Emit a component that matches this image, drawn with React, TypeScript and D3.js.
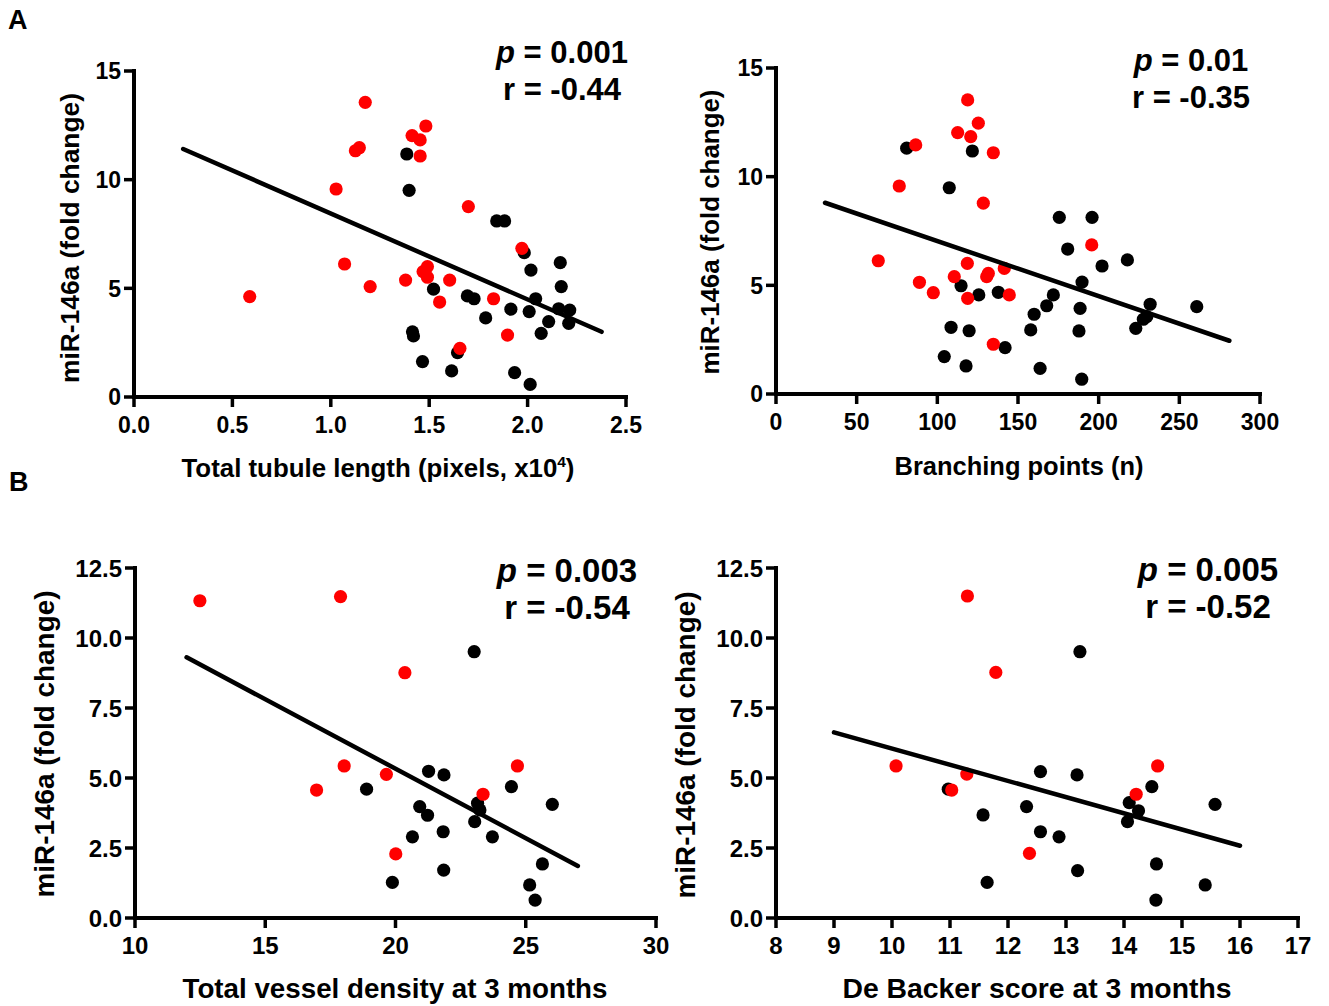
import React from 'react';
import * as d3 from 'd3';

// panel A, left: total tubule length (x10^4 px) vs miR-146a
const tubuleRed = [
  [1.175, 13.56], [1.125, 11.33], [1.145, 11.47], [1.027, 9.57], [1.07, 6.12],
  [1.2, 5.08], [0.588, 4.62], [1.483, 12.47], [1.413, 12.03], [1.454, 11.83],
  [1.454, 11.09], [1.699, 8.76], [1.971, 6.84], [1.491, 6.0], [1.469, 5.77],
  [1.491, 5.51], [1.38, 5.38], [1.604, 5.38], [1.553, 4.37], [1.827, 4.52],
  [1.898, 2.85], [1.656, 2.24],
];
const tubuleBlack = [
  [1.386, 11.18], [1.398, 9.51], [1.843, 8.1], [1.883, 8.1], [1.983, 6.64],
  [2.166, 6.18], [2.017, 5.84], [2.171, 5.08], [1.522, 4.96], [1.694, 4.65],
  [1.728, 4.52], [2.041, 4.52], [1.915, 4.04], [2.008, 3.93], [2.158, 4.06],
  [2.214, 4.0], [2.107, 3.47], [2.209, 3.39], [1.787, 3.64], [2.069, 2.93],
  [1.415, 3.0], [1.42, 2.81], [1.644, 2.04], [1.466, 1.63], [1.614, 1.2],
  [1.934, 1.12], [2.013, 0.58],
];
const tubuleFit = [[0.25, 11.41], [2.376, 3.0]];

// panel A, right: branching points
const branchRed = [
  [118.8, 13.53], [125.4, 12.46], [112.6, 12.03], [120.7, 11.84], [86.6, 11.46],
  [134.7, 11.1], [76.4, 9.57], [128.5, 8.78], [63.4, 6.13], [118.6, 6.01],
  [110.5, 5.4], [131.6, 5.55], [130.6, 5.4], [141.5, 5.78], [88.9, 5.14],
  [97.5, 4.66], [118.8, 4.4], [144.6, 4.56], [134.7, 2.29], [195.7, 6.86],
];
const branchBlack = [
  [81.0, 11.31], [121.7, 11.18], [107.4, 9.49], [114.7, 4.98], [125.7, 4.56],
  [137.8, 4.68], [108.5, 3.07], [119.7, 2.91], [142, 2.13], [104.3, 1.72],
  [117.8, 1.29], [175.6, 8.13], [195.9, 8.13], [180.8, 6.67], [217.8, 6.17],
  [202.1, 5.89], [189.7, 5.15], [171.9, 4.56], [167.8, 4.06], [160, 3.67],
  [188.5, 3.94], [231.9, 4.13], [260.8, 4.02], [229.8, 3.56], [227.7, 3.44],
  [223, 3.02], [157.9, 2.95], [187.8, 2.9], [163.7, 1.18], [189.5, 0.68],
];
const branchFit = [[30.4, 8.8], [281, 2.45]];

// panel B, left: total vessel density at 3 months
const vesselRed = [
  [12.49, 11.33], [17.89, 11.48], [18.03, 5.43], [16.97, 4.57], [19.65, 5.13],
  [20.36, 8.76], [24.68, 5.43], [23.36, 4.42], [20.01, 2.29],
];
const vesselBlack = [
  [23.02, 9.51], [18.89, 4.6], [21.27, 5.24], [21.86, 5.11], [24.45, 4.69],
  [23.15, 4.1], [23.24, 3.86], [23.04, 3.44], [26.02, 4.06], [20.93, 3.98],
  [21.23, 3.67], [21.83, 3.08], [20.65, 2.9], [23.72, 2.9], [21.85, 1.71],
  [19.88, 1.27], [25.64, 1.93], [25.15, 1.18], [25.36, 0.64],
];
const vesselFit = [[11.98, 9.31], [27.0, 1.86]];

// panel B, right: De Backer score at 3 months
const backerRed = [
  [11.3, 11.5], [11.79, 8.77], [10.07, 5.43], [11.29, 5.14], [11.03, 4.57],
  [12.37, 2.31], [14.58, 5.43], [14.21, 4.42],
];
const backerBlack = [
  [13.24, 9.51], [10.97, 4.6], [12.56, 5.23], [13.19, 5.11], [14.48, 4.69],
  [14.09, 4.12], [14.25, 3.83], [14.06, 3.44], [15.57, 4.06], [12.32, 3.98],
  [11.57, 3.68], [12.56, 3.08], [12.88, 2.9], [13.2, 1.69], [11.64, 1.27],
  [14.56, 1.93], [15.4, 1.18], [14.55, 0.64],
];
const backerFit = [[9.0, 6.63], [16.0, 2.58]];

const tubuleTicks = [0, 0.5, 1, 1.5, 2, 2.5];
const branchTicks = [0, 50, 100, 150, 200, 250, 300];
const vesselTicks = [10, 15, 20, 25, 30];
const backerTicks = [8, 9, 10, 11, 12, 13, 14, 15, 16, 17];
const foldTicksA = [0, 5, 10, 15];
const foldTicksB = [0, 2.5, 5, 7.5, 10, 12.5];

const FONT = "'Liberation Sans', Arial, Helvetica, sans-serif";
const RED = '#ff0000';

function Panel(props) {
  const {
    xDomain, yDomain, xRange, yRange, xTicks, yTicks, xFmt, yFmt,
    red, black, fit, p, r, statX, statY, statSize, tickSize,
    xTitle, xTitleX, xTitleY, xTitleLen, yTitleX, yTitleY, yTitleLen, titleSize,
  } = props;

  const x = d3.scaleLinear().domain(xDomain).range(xRange);
  const y = d3.scaleLinear().domain(yDomain).range(yRange);
  const x0 = xRange[0];
  const y0 = yRange[0];
  const line = d3.line().x(d => x(d[0])).y(d => y(d[1]));

  return (
    <g fontFamily={FONT} fontWeight="bold">
      {/* axes */}
      <line x1={x0} x2={x0} y1={y0} y2={yRange[1]} stroke="#000" strokeWidth={4} strokeLinecap="square" />
      <line x1={x0} x2={xRange[1]} y1={y0} y2={y0} stroke="#000" strokeWidth={4} strokeLinecap="square" />
      {yTicks.map(t => (
        <g key={'y' + t}>
          <line x1={x0 - 10} x2={x0} y1={y(t)} y2={y(t)} stroke="#000" strokeWidth={3.5} />
          <text x={x0 - 13} y={y(t)} dy="0.36em" textAnchor="end" fontSize={tickSize}>
            {yFmt(t)}
          </text>
        </g>
      ))}
      {xTicks.map(t => (
        <g key={'x' + t}>
          <line x1={x(t)} x2={x(t)} y1={y0} y2={y0 + 10} stroke="#000" strokeWidth={3.5} />
          <text x={x(t)} y={y0 + 36} textAnchor="middle" fontSize={tickSize}>
            {xFmt(t)}
          </text>
        </g>
      ))}

      {/* points */}
      {black.map((d, i) => (
        <circle key={'b' + i} cx={x(d[0])} cy={y(d[1])} r={6.6} fill="#000" />
      ))}
      {red.map((d, i) => (
        <circle key={'r' + i} cx={x(d[0])} cy={y(d[1])} r={6.6} fill={RED} />
      ))}

      {/* regression */}
      <path d={line(fit)} fill="none" stroke="#000" strokeWidth={4.5} strokeLinecap="round" />

      {/* stats */}
      <text x={statX} y={statY} textAnchor="middle" fontSize={statSize}>
        <tspan fontStyle="italic">p</tspan> = {p}
      </text>
      <text x={statX} y={statY + 37} textAnchor="middle" fontSize={statSize}>
        r = {r}
      </text>

      {/* titles */}
      <text x={xTitleX} y={xTitleY} textAnchor="middle" fontSize={titleSize}
        textLength={xTitleLen} lengthAdjust="spacingAndGlyphs">
        {xTitle}
      </text>
      <text transform={`translate(${yTitleX},${yTitleY}) rotate(-90)`} textAnchor="middle"
        fontSize={titleSize} textLength={yTitleLen} lengthAdjust="spacingAndGlyphs">
        miR-146a (fold change)
      </text>
    </g>
  );
}

export default function App() {
  const f1 = d3.format('.1f');
  const f0 = d3.format('d');
  return (
    <svg width={1329} height={1006} style={{ position: 'absolute', left: 0, top: 0, display: 'block', background: '#fff' }}>
      <rect width={1329} height={1006} fill="#fff" />
      <text x={8} y={29} fontFamily={FONT} fontWeight="bold" fontSize={27}>A</text>
      <text x={9} y={491} fontFamily={FONT} fontWeight="bold" fontSize={27}>B</text>

      <Panel
        xDomain={[0, 2.5]} yDomain={[0, 15]} xRange={[134, 626]} yRange={[397, 71]}
        xTicks={tubuleTicks} yTicks={foldTicksA} xFmt={f1} yFmt={f0}
        red={tubuleRed} black={tubuleBlack} fit={tubuleFit}
        p="0.001" r="-0.44" statX={562} statY={63} statSize={31} tickSize={23}
        xTitle={<>Total tubule length (pixels, x10<tspan dy="-10" fontSize={15}>4</tspan><tspan dy="10">)</tspan></>}
        xTitleX={378} xTitleY={477} xTitleLen={393}
        yTitleX={79} yTitleY={238} yTitleLen={290} titleSize={25}
      />
      <Panel
        xDomain={[0, 300]} yDomain={[0, 15]} xRange={[776, 1260]} yRange={[394, 68]}
        xTicks={branchTicks} yTicks={foldTicksA} xFmt={f0} yFmt={f0}
        red={branchRed} black={branchBlack} fit={branchFit}
        p="0.01" r="-0.35" statX={1191} statY={71} statSize={31} tickSize={23}
        xTitle="Branching points (n)"
        xTitleX={1019} xTitleY={475} xTitleLen={249}
        yTitleX={719} yTitleY={232} yTitleLen={285} titleSize={25}
      />
      <Panel
        xDomain={[10, 30]} yDomain={[0, 12.5]} xRange={[135, 656]} yRange={[918, 568]}
        xTicks={vesselTicks} yTicks={foldTicksB} xFmt={f0} yFmt={f1}
        red={vesselRed} black={vesselBlack} fit={vesselFit}
        p="0.003" r="-0.54" statX={567} statY={582} statSize={33} tickSize={24}
        xTitle="Total vessel density at 3 months"
        xTitleX={395} xTitleY={998} xTitleLen={425}
        yTitleX={54} yTitleY={744} yTitleLen={307} titleSize={27}
      />
      <Panel
        xDomain={[8, 17]} yDomain={[0, 12.5]} xRange={[776, 1298]} yRange={[918, 568]}
        xTicks={backerTicks} yTicks={foldTicksB} xFmt={f0} yFmt={f1}
        red={backerRed} black={backerBlack} fit={backerFit}
        p="0.005" r="-0.52" statX={1208} statY={581} statSize={33} tickSize={24}
        xTitle="De Backer score at 3 months"
        xTitleX={1037} xTitleY={998} xTitleLen={389}
        yTitleX={695} yTitleY={745} yTitleLen={307} titleSize={27}
      />
    </svg>
  );
}
